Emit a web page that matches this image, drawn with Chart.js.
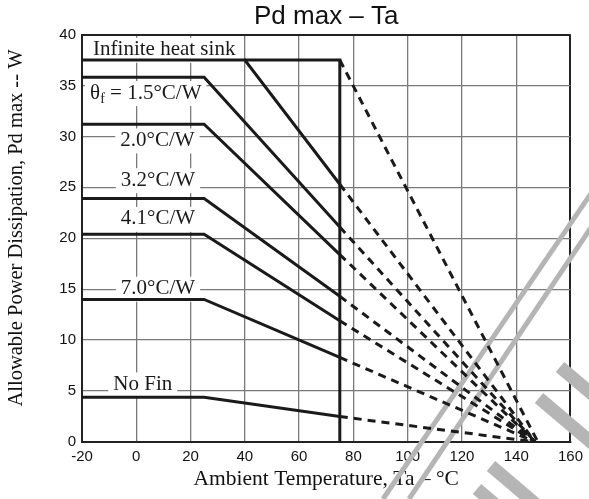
<!DOCTYPE html>
<html>
<head>
<meta charset="utf-8">
<script src="https://cdn.jsdelivr.net/npm/chart.js@4"></script>
<style>
  html, body { margin: 0; padding: 0; background: #fff; }
  #wrap { width: 589px; height: 499px; position: relative; }
</style>
</head>
<body>
<div id="wrap"><canvas id="chart"></canvas></div>
<script>
// curves: flat level, knee temperature, value at the 75 degC limit, end of the dashed part
const curveLabels = ['Infinite heat sink', 'θ_f = 1.5°C/W', '2.0°C/W', '3.2°C/W', '4.1°C/W', '7.0°C/W', 'No Fin'];
const flatPower = [37.5, 35.8, 31.2, 23.9, 20.4, 14.0, 4.4];
const kneeTemp = [40, 25, 25, 25, 25, 25, 25];
const powerAt75 = [25.3, 21.1, 18.4, 14.3, 11.9, 8.3, 2.5];
const zeroTemp = [147, 147, 147, 147, 147, 147, 147];
const startTemp = -20;

// case temperature limit box (horizontal + vertical at 75) and its dashed tail
const limitTemp = 75;
const limitPower = 37.5;
const limitZeroTemp = 148;

// where the curve names sit (data units)
const labelX = [10.3, 3.5, 7.8, 8.0, 8.0, 8.0, 2.4];
const labelY = [38.5, 34.25, 29.6, 25.7, 21.9, 15.05, 5.65];

const xTicks = [-20, 0, 20, 40, 60, 80, 100, 120, 140, 160];
const yTicks = [0, 5, 10, 15, 20, 25, 30, 35, 40];

const chartTitle = 'Pd max – Ta';

const ink = '#1a1a1a';
const datasets = [];

curveLabels.forEach((name, i) => {
  datasets.push({
    data: [
      { x: startTemp, y: flatPower[i] },
      { x: kneeTemp[i], y: flatPower[i] },
      { x: limitTemp, y: powerAt75[i] }
    ]
  });
  datasets.push({
    data: [
      { x: limitTemp, y: powerAt75[i] },
      { x: zeroTemp[i], y: 0 }
    ],
    borderDash: [8, 6]
  });
});
datasets.push({
  data: [
    { x: kneeTemp[0], y: limitPower },
    { x: limitTemp, y: limitPower },
    { x: limitTemp, y: 0 }
  ]
});
datasets.push({
  data: [
    { x: limitTemp, y: limitPower },
    { x: limitZeroTemp, y: 0 }
  ],
  borderDash: [8, 6]
});

datasets.forEach(d => {
  d.borderColor = ink;
  d.borderWidth = 3;
  d.pointRadius = 0;
  d.showLine = true;
  d.fill = false;
  d.borderJoinStyle = 'miter';
  d.borderCapStyle = 'butt';
});

// grey diagonal strokes over the lower right corner of the scan
const watermark = {
  id: 'watermark',
  beforeDatasetsDraw(chart) {
    const ctx = chart.ctx;
    ctx.save();
    ctx.strokeStyle = '#b5b5b5';
    ctx.lineCap = 'butt';
    [
      [592, 192, 383, 499, 5],
      [592, 226, 409, 499, 5],
      [560, 367, 605, 405, 13],
      [539, 398, 605, 454, 13],
      [491, 466, 605, 563, 13],
      [477, 489, 530, 534, 13]
    ].forEach(s => {
      ctx.lineWidth = s[4];
      ctx.beginPath();
      ctx.moveTo(s[0], s[1]);
      ctx.lineTo(s[2], s[3]);
      ctx.stroke();
    });
    ctx.restore();
  }
};

// title centred over the plot area, not over the whole canvas
const plotTitle = {
  id: 'plotTitle',
  afterDraw(chart) {
    const { ctx, chartArea } = chart;
    ctx.save();
    ctx.font = '26px "Liberation Sans"';
    ctx.fillStyle = '#111';
    ctx.textAlign = 'center';
    ctx.textBaseline = 'middle';
    ctx.fillText(chartTitle, (chartArea.left + chartArea.right) / 2, 17);
    ctx.restore();
  }
};

const curveNames = {
  id: 'curveNames',
  beforeDatasetsDraw(chart) {
    const { ctx, scales: { x, y } } = chart;
    ctx.save();
    ctx.textBaseline = 'middle';
    ctx.textAlign = 'left';
    curveLabels.forEach((txt, i) => {
      let parts;
      if (txt.indexOf('_') >= 0) {
        const k = txt.indexOf('_');
        parts = [[txt.slice(0, k), 21, 0], [txt[k + 1], 14, 6], [txt.slice(k + 2), 21, 0]];
      } else {
        parts = [[txt, 21, 0]];
      }
      let w = 0;
      parts.forEach(p => {
        ctx.font = p[1] + 'px "Liberation Serif"';
        p.push(ctx.measureText(p[0]).width);
        w += p[3];
      });
      const cx = x.getPixelForValue(labelX[i]);
      const cy = y.getPixelForValue(labelY[i]);
      ctx.fillStyle = '#fff';
      ctx.fillRect(cx - w / 2 - 5, cy - 12, w + 10, 25);
      ctx.fillStyle = ink;
      let px = cx - w / 2;
      parts.forEach(p => {
        ctx.font = p[1] + 'px "Liberation Serif"';
        ctx.fillText(p[0], px, cy + p[2]);
        px += p[3];
      });
    });
    ctx.restore();
  }
};

const gridColor = '#7a7a7a';
const frameColor = '#222';

new Chart(document.getElementById('chart'), {
  type: 'scatter',
  data: { datasets: datasets },
  plugins: [watermark, curveNames, plotTitle],
  options: {
    responsive: true,
    maintainAspectRatio: false,
    animation: false,
    layout: { padding: { left: 0, right: 14, top: 34.5, bottom: 0 } },
    plugins: {
      legend: { display: false },
      tooltip: { enabled: false },
      title: { display: false }
    },
    scales: {
      x: {
        type: 'linear',
        min: xTicks[0],
        max: xTicks[xTicks.length - 1],
        afterBuildTicks: s => { s.ticks = xTicks.map(v => ({ value: v })); },
        afterFit: s => { s.height = 57; },
        grid: {
          drawTicks: false,
          color: c => c.tick && c.tick.value === 160 ? frameColor : gridColor,
          lineWidth: c => c.tick && c.tick.value === 160 ? 2 : 1.3
        },
        border: { color: frameColor, width: 2 },
        ticks: {
          padding: 6,
          color: '#111',
          autoSkip: false,
          maxRotation: 0,
          font: { family: 'Liberation Sans', size: 15 }
        },
        title: {
          display: true,
          text: 'Ambient Temperature, Ta – °C',
          color: '#111',
          font: { family: 'Liberation Serif', size: 21.5 },
          padding: { top: 0, bottom: 7 }
        }
      },
      y: {
        type: 'linear',
        min: yTicks[0],
        max: yTicks[yTicks.length - 1],
        afterBuildTicks: s => { s.ticks = yTicks.map(v => ({ value: v })); },
        afterFit: s => { s.width = 82; },
        grid: {
          drawTicks: false,
          color: c => c.tick && c.tick.value === 40 ? frameColor : gridColor,
          lineWidth: c => c.tick && c.tick.value === 40 ? 2 : 1.3
        },
        border: { color: frameColor, width: 2 },
        ticks: {
          padding: 6,
          color: '#111',
          font: { family: 'Liberation Sans', size: 15 }
        },
        title: {
          display: true,
          text: '    Allowable Power Dissipation, Pd max -- W',
          color: '#111',
          font: { family: 'Liberation Serif', size: 20.5 },
          padding: { top: 4, bottom: 0 }
        }
      }
    }
  }
});
</script>
</body>
</html>
